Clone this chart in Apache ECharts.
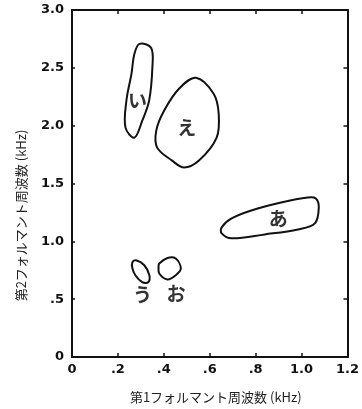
<!DOCTYPE html>
<html>
<head>
<meta charset="utf-8">
<script src="https://cdn.jsdelivr.net/npm/echarts@6/dist/echarts.min.js"></script>
<style>
  html, body { margin: 0; padding: 0; background: #fff; }
  #chart { width: 362px; height: 409px; }
</style>
</head>
<body>
<div id="chart"></div>
<script>
// 第1フォルマント (kHz) / 第2フォルマント (kHz) の各母音の分布範囲
const xTicks = ['0', '.2', '.4', '.6', '.8', '1.0', '1.2']
const yTicks = ['0', '.5', '1.0', '1.5', '2.0', '2.5', '3.0']

const loopA = [[1.062, 1.371], [1.075, 1.293], [1.058, 1.155], [0.984, 1.103], [0.84, 1.06], [0.695, 1.026],
  [0.652, 1.069], [0.652, 1.121], [0.695, 1.198], [0.781, 1.267], [0.911, 1.336], [1.027, 1.379]]
const loopI = [[0.294, 2.707], [0.345, 2.672], [0.350, 2.50], [0.336, 2.216], [0.306, 2.043], [0.272, 1.897],
  [0.233, 1.983], [0.237, 2.216], [0.259, 2.448], [0.272, 2.621]]
const loopU = [[0.279, 0.836], [0.315, 0.793], [0.337, 0.707], [0.332, 0.647], [0.306, 0.647], [0.276, 0.707],
  [0.263, 0.767], [0.263, 0.819]]
const loopE = [[0.540, 2.414], [0.617, 2.276], [0.639, 2.103], [0.630, 1.897], [0.553, 1.698], [0.488, 1.638],
  [0.436, 1.698], [0.371, 1.810], [0.367, 1.957], [0.401, 2.129], [0.466, 2.319]]
const loopO = [[0.380, 0.808], [0.416, 0.856], [0.452, 0.851], [0.474, 0.765], [0.452, 0.707], [0.416, 0.670],
  [0.380, 0.722], [0.377, 0.778]]

const vowels = ['あ', 'い', 'う', 'え', 'お']
const labelPos = [[0.898, 1.198], [0.285, 2.216], [0.307, 0.534], [0.50, 1.98], [0.453, 0.543]]
const loops = [loopA, loopI, loopU, loopE, loopO]

const chart = echarts.init(document.getElementById('chart'))

// 閉曲線を描く
function loopSeries(points) {
  return {
    type: 'custom',
    data: points,
    silent: true,
    renderItem: function(params, api) {
      if (params.dataIndex !== 0) return
      const pts = points.map(function(p) { return api.coord(p) })
      return {
        type: 'polygon',
        shape: { points: pts, smooth: 0.35 },
        style: { fill: 'none', stroke: '#111', lineWidth: 2 }
      }
    }
  }
}

const tickFont = {
  color: '#111',
  fontFamily: 'DejaVu Sans',
  fontSize: 13,
  fontWeight: 'bold'
}
const frameLine = { onZero: false, lineStyle: { color: '#111', width: 2 } }

chart.setOption({
  animation: false,
  grid: { left: 72, right: 12, top: 10, bottom: 52 },
  xAxis: [
    {
      type: 'value',
      min: 0,
      max: 1.2,
      interval: 0.2,
      name: '第1フォルマント周波数 (kHz)',
      nameLocation: 'middle',
      nameGap: 34,
      nameTextStyle: { color: '#222', fontFamily: 'Noto Sans CJK JP', fontSize: 13, padding: [0, 0, 0, 12] },
      axisLine: frameLine,
      axisTick: { inside: true, length: 4, lineStyle: { color: '#111', width: 1.5 } },
      axisLabel: Object.assign({
        margin: 6,
        formatter: function(v, i) { return xTicks[i] }
      }, tickFont),
      splitLine: { show: false }
    },
    {
      type: 'value',
      position: 'top',
      min: 0,
      max: 1.2,
      interval: 0.2,
      axisLine: frameLine,
      axisTick: { inside: true, length: 4, lineStyle: { color: '#111', width: 1.5 } },
      axisLabel: { show: false },
      splitLine: { show: false }
    }
  ],
  yAxis: [
    {
      type: 'value',
      min: 0,
      max: 3,
      interval: 0.5,
      name: '第2フォルマント周波数 (kHz)',
      nameLocation: 'middle',
      nameGap: 44,
      nameTextStyle: { color: '#222', fontFamily: 'Noto Sans CJK JP', fontSize: 13, padding: [0, 64, 0, 0] },
      axisLine: frameLine,
      axisTick: { inside: true, length: 3, lineStyle: { color: '#111', width: 1.5 } },
      axisLabel: Object.assign({
        margin: 8,
        formatter: function(v, i) { return yTicks[i] }
      }, tickFont),
      splitLine: { show: false }
    },
    {
      type: 'value',
      position: 'right',
      min: 0,
      max: 3,
      interval: 0.5,
      axisLine: frameLine,
      axisTick: { inside: true, length: 4, lineStyle: { color: '#111', width: 1.5 } },
      axisLabel: { show: false },
      splitLine: { show: false }
    }
  ],
  series: loops.map(loopSeries).concat([
    {
      type: 'scatter',
      symbolSize: 0,
      silent: true,
      data: labelPos.map(function(p, i) { return { value: p, name: vowels[i] } }),
      label: {
        show: true,
        position: 'inside',
        formatter: '{b}',
        color: '#000',
        fontFamily: 'Noto Sans CJK JP',
        fontWeight: 'bold',
        fontSize: 19
      }
    }
  ])
})
</script>
</body>
</html>
